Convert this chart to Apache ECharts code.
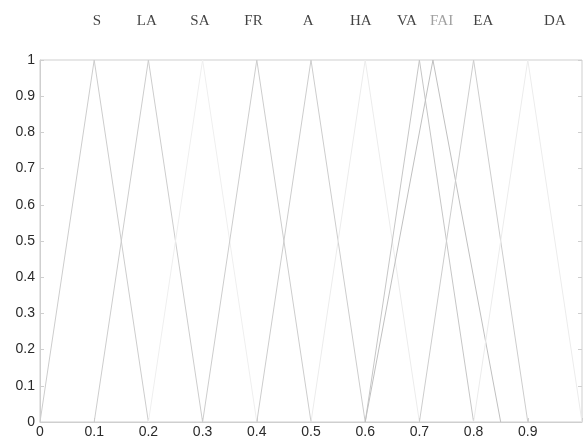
<!DOCTYPE html>
<html><head><meta charset="utf-8">
<script src="https://cdn.jsdelivr.net/npm/echarts@6/dist/echarts.min.js"></script>
<style>html,body{margin:0;padding:0;background:#fff}#c{width:585px;height:443px}</style>
</head><body><div id="c"></div>
<script>
// Membership function names and triangle breakpoints (left foot, peak, right foot)
const names = ['S','LA','SA','FR','A','HA','VA','FAI','EA','DA'];
const feetLeft  = [0.0,0.1,0.2,0.3,0.4,0.5,0.6,0.6,0.7,0.8];
const peaks     = [0.1,0.2,0.3,0.4,0.5,0.6,0.7,0.725,0.8,0.9];
const feetRight = [0.2,0.3,0.4,0.5,0.6,0.7,0.8,0.85,0.9,1.0];
const lineColors = ['#cdcdcd','#cdcdcd','#efefef','#cdcdcd','#cdcdcd','#ececec','#c6c6c6','#c0c0c0','#cdcdcd','#ececec'];
// Top labels: data-x positions and colours
const labelX = [0.105,0.197,0.295,0.394,0.495,0.592,0.677,0.741,0.818,0.95];
const labelY = 1.108;
const labelColors = ['#111','#111','#111','#111','#111','#111','#111','#888','#111','#111'];
const xTicks = [0,0.1,0.2,0.3,0.4,0.5,0.6,0.7,0.8,0.9];
const yTicks = [0,0.1,0.2,0.3,0.4,0.5,0.6,0.7,0.8,0.9,1];

const chart = echarts.init(document.getElementById('c'), null, {renderer:'canvas'});
const series = names.map((n,i)=>({
  type:'line', name:n, symbol:'none', animation:false,
  lineStyle:{color:lineColors[i], width:1},
  data:[[feetLeft[i],0],[peaks[i],1],[feetRight[i],0]]
}));
series.push({
  type:'scatter', symbolSize:0, clip:false, animation:false, silent:true,
  data:names.map((n,i)=>({value:[labelX[i],labelY], name:n,
    label:{show:true, position:'inside', formatter:n, color:labelColors[i],
      fontFamily:'Liberation Serif, Times New Roman, serif', fontSize:15}}))
});
const axisFont = {color:'#2a2a2a', fontFamily:'Liberation Sans, Arial, sans-serif', fontSize:14};
const fmt = list => v => list.some(t=>Math.abs(t-v)<1e-9) ? String(+v.toFixed(1)) : '';
chart.setOption({
  animation:false,
  grid:{left:40, right:0, top:60, bottom:21, show:true, borderColor:'#cfcfcf', borderWidth:1, backgroundColor:'#fff'},
  xAxis:{type:'value', min:0, max:1, interval:0.1,
    axisLine:{show:true, lineStyle:{color:'#cfcfcf'}},
    axisTick:{show:true, inside:true, length:4, lineStyle:{color:'#cfcfcf'}},
    splitLine:{show:false},
    axisLabel:Object.assign({margin:3, formatter:fmt(xTicks)}, axisFont)},
  yAxis:[{type:'value', min:0, max:1, interval:0.1,
    axisLine:{show:true, lineStyle:{color:'#cfcfcf'}},
    axisTick:{show:true, inside:true, length:4, lineStyle:{color:'#cfcfcf'}},
    splitLine:{show:false},
    axisLabel:Object.assign({margin:5, formatter:fmt(yTicks)}, axisFont)},
   {type:'value', position:'right', min:0, max:1, interval:0.1,
    axisLine:{show:false},
    axisTick:{show:true, inside:true, length:4, lineStyle:{color:'#cfcfcf'}},
    splitLine:{show:false}, axisLabel:{show:false}}],
  series:series
});
</script></body></html>
